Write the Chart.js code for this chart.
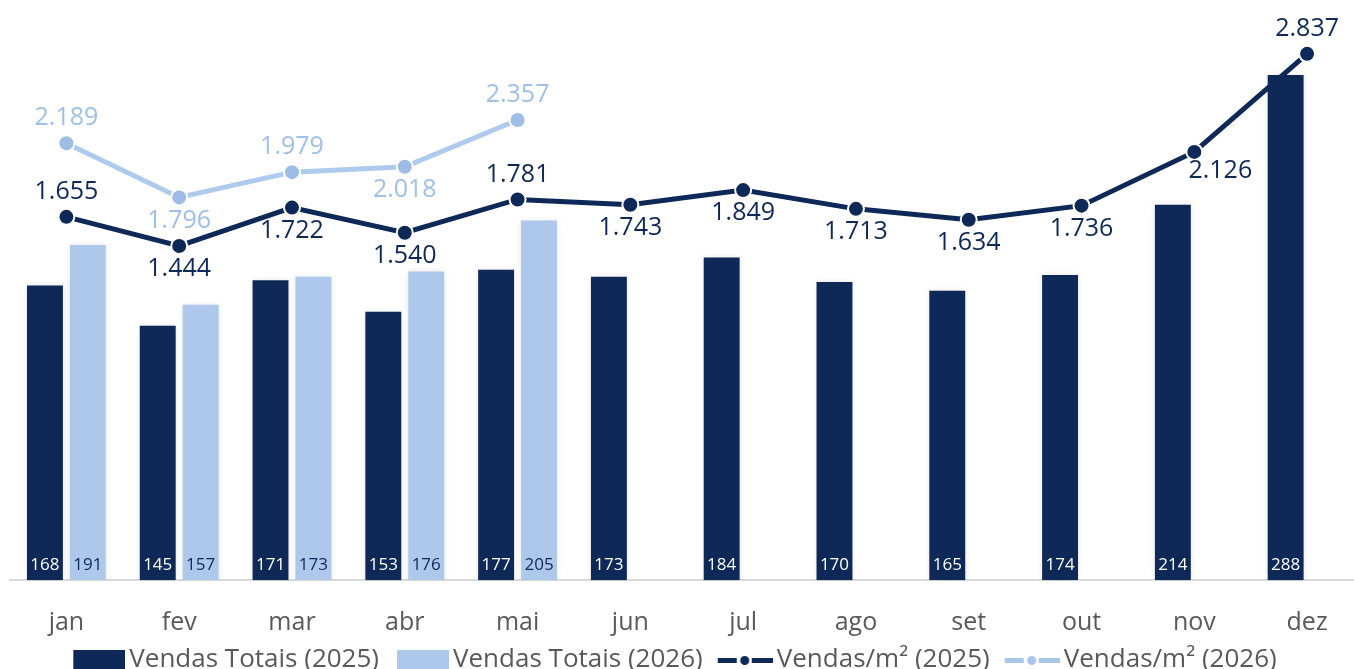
<!DOCTYPE html>
<html>
<head>
<meta charset="utf-8">
<script src="https://cdn.jsdelivr.net/npm/chart.js@4/dist/chart.umd.min.js"></script>
<style>
html,body{margin:0;padding:0;background:#fff;overflow:hidden;}
canvas{display:block;}
</style>
</head>
<body>
<canvas id="c" width="1354" height="669" style="width:1354px;height:669px"></canvas>
<script>
const categories = ['jan','fev','mar','abr','mai','jun','jul','ago','set','out','nov','dez'];
const vendasTotais2025 = [168,145,171,153,177,173,184,170,165,174,214,288];
const vendasTotais2026 = [191,157,173,176,205,null,null,null,null,null,null,null];
const vendasM2_2025 = [1655,1444,1722,1540,1781,1743,1849,1713,1634,1736,2126,2837];
const vendasM2_2026 = [2189,1796,1979,2018,2357,null,null,null,null,null,null,null];
const labelPos2025 = ['above','below','below','below','above','below','below','below','below','below','right','above'];
const labelPos2026 = ['above','below','above','below','above'];
const seriesNames = ['Vendas Totais (2025)','Vendas Totais (2026)','Vendas/m² (2025)','Vendas/m² (2026)'];

const DARK = '#0e2857';
const LIGHT = '#adc8ea';
const LIGHTLINE = 'rgba(160,194,234,0.85)';
const LIGHTLABEL = '#9dbfe8';
const GREY = '#595959';
const FONT = "'Open Sans', 'Noto Sans', sans-serif";

// legend icons: drawn at the right end of a wider transparent image
function rectIcon(color){
  const c=document.createElement('canvas'); c.width=75; c.height=20;
  const x=c.getContext('2d'); x.fillStyle=color; x.fillRect(23,0,52,20); return c;
}
function lineIcon(color){
  const c=document.createElement('canvas'); c.width=75; c.height=12;
  const x=c.getContext('2d'); x.fillStyle=color;
  const o=20;
  x.fillRect(o,4,19,5); x.fillRect(o+34,4,21,5);
  x.beginPath(); x.arc(o+27,6.5,4.5,0,Math.PI*2); x.fill(); return c;
}
const icons=[rectIcon(DARK),rectIcon(LIGHT),lineIcon(DARK),lineIcon('#a9c6ea')];

const fmt = v => v.toLocaleString('pt-BR');

const labelsPlugin = {
  id:'labels',
  afterDatasetsDraw(chart){
    const ctx=chart.ctx;
    const yBase=chart.scales.y.getPixelForValue(0);
    ctx.save();
    ctx.textAlign='center'; ctx.textBaseline='middle';
    chart.data.datasets.forEach((ds,di)=>{
      const meta=chart.getDatasetMeta(di);
      meta.data.forEach((el,i)=>{
        const v=ds.data[i];
        if(v==null) return;
        if(ds.type==='bar'){
          ctx.font="17px "+FONT;
          ctx.fillStyle = di===0 ? '#ffffff' : DARK;
          ctx.fillText(fmt(v), el.x, yBase-15);
        } else {
          ctx.font="25px "+FONT;
          ctx.fillStyle = di===2 ? DARK : LIGHTLABEL;
          const pos = (di===2?labelPos2025:labelPos2026)[i];
          let x=el.x,y=el.y;
          if(pos==='above') y-=25;
          else if(pos==='below') y+=23;
          else {x+=26;y+=19;}
          ctx.fillText(fmt(v), x, y);
        }
      });
    });
    ctx.restore();
  }
};

const shadowPlugin = {
  id:'shadow',
  beforeDatasetDraw(chart,args){
    if(chart.data.datasets[args.index].type==='bar'){
      chart.ctx.save();
      chart.ctx.shadowColor='rgba(0,0,0,0.10)';
      chart.ctx.shadowBlur=6;
    }
  },
  afterDatasetDraw(chart,args){
    if(chart.data.datasets[args.index].type==='bar') chart.ctx.restore();
  }
};

// the original plot area runs slightly past the right edge of the picture
const extendX = {
  id:'extendX',
  afterLayout(chart){
    const s=chart.scales.x;
    s.right = chart.width + 9.5;
    s.width = s.right - s.left;
    s.configure();
  }
};

new Chart(document.getElementById('c'),{
  data:{
    labels:categories,
    datasets:[
      {type:'bar',label:seriesNames[0],data:vendasTotais2025,backgroundColor:DARK,yAxisID:'y',order:2,categoryPercentage:0.761,barPercentage:0.837},
      {type:'bar',label:seriesNames[1],data:vendasTotais2026,backgroundColor:LIGHT,yAxisID:'y',order:2,categoryPercentage:0.761,barPercentage:0.837},
      {type:'line',label:seriesNames[2],data:vendasM2_2025,borderColor:DARK,backgroundColor:DARK,borderWidth:5,pointRadius:8,pointBorderColor:'#ffffff',pointBorderWidth:2,pointBackgroundColor:DARK,yAxisID:'y1',order:1,tension:0,clip:false},
      {type:'line',label:seriesNames[3],data:vendasM2_2026,borderColor:LIGHTLINE,backgroundColor:'#a9c6ea',borderWidth:5,pointRadius:8,pointBorderColor:'#ffffff',pointBorderWidth:2,pointBackgroundColor:'#9dbde6',yAxisID:'y1',order:1,tension:0,spanGaps:false,clip:false}
    ]
  },
  options:{
    responsive:false,
    maintainAspectRatio:false,
    animation:false,
    events:[],
    layout:{padding:{left:7.5,right:25.5,top:8,bottom:-14}},
    scales:{
      x:{
        grid:{display:false,drawTicks:false},
        border:{display:true,color:'#d9d9d9',width:2},
        ticks:{color:GREY,font:{family:FONT,size:25},padding:28},
        afterFit(s){ s.height = 62.8; }
      },
      y:{display:false,min:0,max:325},
      y1:{display:false,min:-980,max:3155}
    },
    plugins:{
      tooltip:{enabled:false},
      legend:{
        position:'bottom',
        labels:{
          usePointStyle:true,
          pointStyleWidth:57,
          padding:4,
          color:GREY,
          font:{family:FONT,size:26},
          generateLabels(chart){
            return chart.data.datasets.map((ds,i)=>({
              text:ds.label,fontColor:GREY,pointStyle:icons[i],datasetIndex:i,hidden:false,lineWidth:0,strokeStyle:'transparent',fillStyle:'transparent'
            }));
          }
        }
      }
    }
  },
  plugins:[extendX,shadowPlugin,labelsPlugin]
});
</script>
</body>
</html>
